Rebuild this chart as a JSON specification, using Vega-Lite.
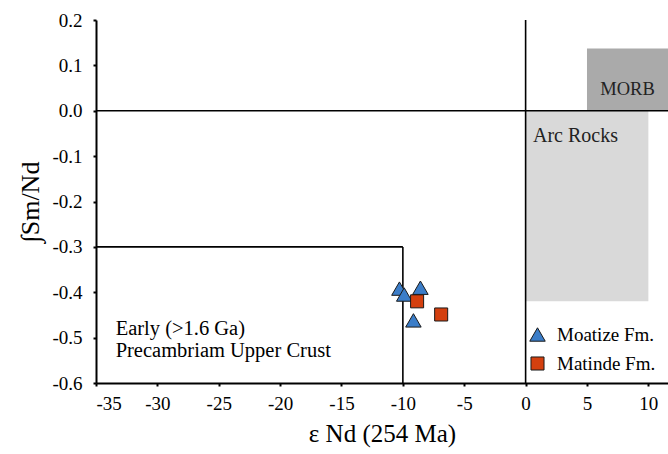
{
  "$schema": "https://vega.github.io/schema/vega-lite/v6.json",
  "width": 572,
  "height": 363,
  "autosize": {"type": "none"},
  "padding": {"left": 96, "top": 20, "right": 0, "bottom": 71},
  "background": "white",
  "config": {
    "view": {"stroke": null},
    "font": "Liberation Serif, Times New Roman, serif",
    "text": {"font": "Liberation Serif, Times New Roman, serif"},
    "legend": {"labelFont": "Liberation Serif, Times New Roman, serif"},
    "axis": {
      "labelFont": "Liberation Serif, Times New Roman, serif",
      "titleFont": "Liberation Serif, Times New Roman, serif",
      "labelColor": "black",
      "titleColor": "black",
      "domainColor": "black",
      "tickColor": "black",
      "grid": false,
      "labelFontSize": 19,
      "titleFontSize": 25,
      "titleFontWeight": "normal",
      "domainWidth": 2,
      "tickWidth": 2,
      "tickSize": 3
    }
  },
  "layer": [
    {
      "data": {"values": [
        {"x1": 0, "x2": 10, "y1": -0.42, "y2": 0, "zone": "Arc Rocks"}
      ]},
      "mark": {"type": "rect", "color": "#d9d9d9"},
      "encoding": {
        "x": {"field": "x1", "type": "quantitative",
          "scale": {"domain": [-35, 11.6], "nice": false, "zero": false},
          "axis": {"values": [-35, -30, -25, -20, -15, -10, -5, 0, 5, 10],
            "labelExpr": "replace(format(datum.value, 'd'), '\u2212', '-')",
            "title": "ε Nd (254 Ma)", "titlePadding": 8, "labelPadding": 8}},
        "x2": {"field": "x2"},
        "y": {"field": "y1", "type": "quantitative",
          "scale": {"domain": [-0.6, 0.2], "nice": false, "zero": false},
          "axis": {"values": [-0.6, -0.5, -0.4, -0.3, -0.2, -0.1, 0, 0.1, 0.2],
            "labelExpr": "replace(format(datum.value, '.1f'), '\u2212', '-')",
            "title": "∫Sm/Nd", "titleFontSize": 26, "titlePadding": 8, "labelPadding": 11}},
        "y2": {"field": "y2"}
      }
    },
    {
      "data": {"values": [
        {"x1": 5, "x2": 11.6, "y1": 0, "y2": 0.137, "zone": "MORB"}
      ]},
      "mark": {"type": "rect", "color": "#aaaaaa"},
      "encoding": {
        "x": {"field": "x1", "type": "quantitative"},
        "x2": {"field": "x2"},
        "y": {"field": "y1", "type": "quantitative"},
        "y2": {"field": "y2"}
      }
    },
    {
      "data": {"values": [
        {"x1": -35, "x2": 11.6, "y1": 0, "y2": 0},
        {"x1": 0, "x2": 0, "y1": -0.6, "y2": 0.2},
        {"x1": -35, "x2": -10, "y1": -0.3, "y2": -0.3},
        {"x1": -10, "x2": -10, "y1": -0.3, "y2": -0.6}
      ]},
      "mark": {"type": "rule", "color": "black", "strokeWidth": 1.6},
      "encoding": {
        "x": {"field": "x1", "type": "quantitative"},
        "x2": {"field": "x2"},
        "y": {"field": "y1", "type": "quantitative"},
        "y2": {"field": "y2"}
      }
    },
    {
      "data": {"values": [
        {"x": -33.4, "y": -0.482, "label": "Early (>1.6 Ga)"},
        {"x": -33.4, "y": -0.530, "label": "Precambriam Upper Crust"}
      ]},
      "mark": {"type": "text", "align": "left", "baseline": "middle", "fontSize": 20.5, "color": "black", "font": "Liberation Serif, Times New Roman, serif"},
      "encoding": {
        "x": {"field": "x", "type": "quantitative"},
        "y": {"field": "y", "type": "quantitative"},
        "text": {"field": "label"}
      }
    },
    {
      "data": {"values": [
        {"x": 0.6, "y": -0.056, "label": "Arc Rocks"}
      ]},
      "mark": {"type": "text", "align": "left", "baseline": "middle", "fontSize": 20, "color": "#222222", "font": "Liberation Serif, Times New Roman, serif"},
      "encoding": {
        "x": {"field": "x", "type": "quantitative"},
        "y": {"field": "y", "type": "quantitative"},
        "text": {"field": "label"}
      }
    },
    {
      "data": {"values": [
        {"x": 8.3, "y": 0.048, "label": "MORB"}
      ]},
      "mark": {"type": "text", "align": "center", "baseline": "middle", "fontSize": 18.5, "color": "#222222", "font": "Liberation Serif, Times New Roman, serif"},
      "encoding": {
        "x": {"field": "x", "type": "quantitative"},
        "y": {"field": "y", "type": "quantitative"},
        "text": {"field": "label"}
      }
    },
    {
      "data": {"values": [
        {"eNd": -10.28, "fSmNd": -0.392, "unit": "Moatize Fm."},
        {"eNd": -9.89, "fSmNd": -0.405, "unit": "Moatize Fm."},
        {"eNd": -8.57, "fSmNd": -0.390, "unit": "Moatize Fm."},
        {"eNd": -9.14, "fSmNd": -0.462, "unit": "Moatize Fm."},
        {"eNd": -8.84, "fSmNd": -0.420, "unit": "Matinde Fm."},
        {"eNd": -6.88, "fSmNd": -0.449, "unit": "Matinde Fm."}
      ]},
      "mark": {"type": "point", "filled": true, "opacity": 1, "stroke": "#1a1a1a", "strokeWidth": 1},
      "encoding": {
        "x": {"field": "eNd", "type": "quantitative"},
        "y": {"field": "fSmNd", "type": "quantitative"},
        "shape": {"field": "unit", "type": "nominal",
          "scale": {"domain": ["Moatize Fm.", "Matinde Fm."], "range": ["triangle-up", "square"]},
          "legend": {"title": null, "orient": "none", "legendX": 432, "legendY": 305,
            "labelFont": "Liberation Serif, Times New Roman, serif", "labelFontSize": 19, "labelColor": "black",
            "symbolSize": 170, "symbolStrokeColor": "#1a1a1a", "symbolStrokeWidth": 1,
            "rowPadding": 9, "labelOffset": 10}},
        "color": {"field": "unit", "type": "nominal",
          "scale": {"domain": ["Moatize Fm.", "Matinde Fm."], "range": ["#3b7dc8", "#d4400f"]},
          "legend": {"title": null, "orient": "none", "legendX": 432, "legendY": 305,
            "labelFont": "Liberation Serif, Times New Roman, serif", "labelFontSize": 19, "labelColor": "black",
            "symbolSize": 170, "symbolStrokeColor": "#1a1a1a", "symbolStrokeWidth": 1,
            "rowPadding": 9, "labelOffset": 10}},
        "size": {"field": "unit", "type": "nominal",
          "scale": {"domain": ["Moatize Fm.", "Matinde Fm."], "range": [240, 170]},
          "legend": null}
      }
    }
  ]
}
